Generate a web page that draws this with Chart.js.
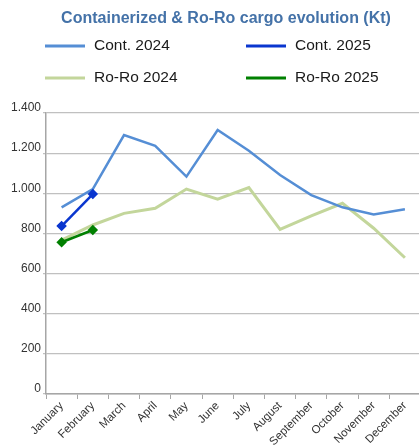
<!DOCTYPE html>
<html>
<head>
<meta charset="utf-8">
<script src="https://cdn.jsdelivr.net/npm/chart.js@4/dist/chart.umd.min.js"></script>
<style>
  html, body { margin: 0; padding: 0; background: #fff; overflow: hidden; width: 419px; height: 447px; }
  canvas { display: block; }
</style>
</head>
<body>
<canvas id="c" width="427" height="447" style="width:427px;height:447px"></canvas>
<script>
const months = ["January","February","March","April","May","June","July","August","September","October","November","December"];
const cont2024 = [930, 1021, 1290, 1236, 1083, 1315, 1212, 1091, 991, 930, 895, 920];
const roro2024 = [767, 842, 900, 925, 1021, 971, 1028, 820, 887, 950, 826, 679];
const cont2025 = [837, 996];
const roro2025 = [756, 817];
const yTicks = [0, 200, 400, 600, 800, 1000, 1200, 1400];
const titleText = "Containerized & Ro-Ro cargo evolution (Kt)";

function fmt(v) { return String(v).replace(/\B(?=(\d{3})+(?!\d))/g, "."); }

const headerPlugin = {
  id: 'header',
  afterDraw(chart) {
    const ctx = chart.ctx;
    ctx.save();
    ctx.fillStyle = '#4472a8';
    ctx.font = 'bold 16px "Liberation Sans", Arial, sans-serif';
    ctx.textAlign = 'center';
    ctx.textBaseline = 'middle';
    ctx.fillText(titleText, 226, 19);
    const ds = chart.data.datasets;
    const pos = [[45, 46], [246, 46], [45, 78], [246, 78]];
    const legendOrder = [0, 2, 1, 3];
    ctx.font = '15.5px "Liberation Sans", Arial, sans-serif';
    ctx.textAlign = 'left';
    legendOrder.forEach((di, k) => {
      const d = ds[di];
      const [x, y] = pos[k];
      ctx.strokeStyle = d.borderColor;
      ctx.lineWidth = 3;
      ctx.beginPath();
      ctx.moveTo(x, y);
      ctx.lineTo(x + 40, y);
      ctx.stroke();
      ctx.fillStyle = '#1a1a1a';
      ctx.fillText(d.label, x + 49, y);
    });
    ctx.restore();
  }
};

new Chart(document.getElementById('c'), {
  type: 'line',
  data: {
    labels: months,
    datasets: [
      { label: 'Cont. 2024', data: cont2024, borderColor: '#558ed5', backgroundColor: '#558ed5', borderWidth: 2.5, pointRadius: 0, tension: 0, order: 3 },
      { label: 'Ro-Ro 2024', data: roro2024, borderColor: '#c3d69b', backgroundColor: '#c3d69b', borderWidth: 3, pointRadius: 0, tension: 0, order: 4 },
      { label: 'Cont. 2025', data: cont2025, borderColor: '#0a36cf', backgroundColor: '#0a36cf', borderWidth: 2.5, pointRadius: 3.5, pointStyle: 'rectRot', tension: 0, order: 1 },
      { label: 'Ro-Ro 2025', data: roro2025, borderColor: '#008000', backgroundColor: '#008000', borderWidth: 2.5, pointRadius: 3.5, pointStyle: 'rectRot', tension: 0, order: 2 }
    ]
  },
  options: {
    responsive: false,
    animation: false,
    devicePixelRatio: 1,
    layout: { padding: { top: 113, left: 0, right: 0, bottom: 0 } },
    plugins: { legend: { display: false }, title: { display: false }, tooltip: { enabled: false } },
    scales: {
      x: {
        offset: true,
        grid: { display: true, drawOnChartArea: false, offset: true, color: '#a6a6a6', tickLength: 5 },
        border: { color: '#a6a6a6', width: 1.5 },
        ticks: { color: '#333', font: { family: '"Liberation Sans", Arial, sans-serif', size: 11.5 }, minRotation: 45, maxRotation: 45, autoSkip: false, padding: 0 },
        afterFit(s) { s.height = 53; }
      },
      y: {
        min: 0, max: 1400,
        afterBuildTicks(s) { s.ticks = yTicks.map(v => ({ value: v })); },
        grid: { color: '#c0c0c0', lineWidth: 1.2, tickLength: 3 },
        border: { color: '#a6a6a6', width: 1.5 },
        ticks: { color: '#333', font: { family: '"Liberation Sans", Arial, sans-serif', size: 12 }, padding: 2, labelOffset: -5, callback: v => fmt(v) },
        afterFit(s) { s.width = 46; }
      }
    }
  },
  plugins: [headerPlugin]
});
</script>
</body>
</html>
